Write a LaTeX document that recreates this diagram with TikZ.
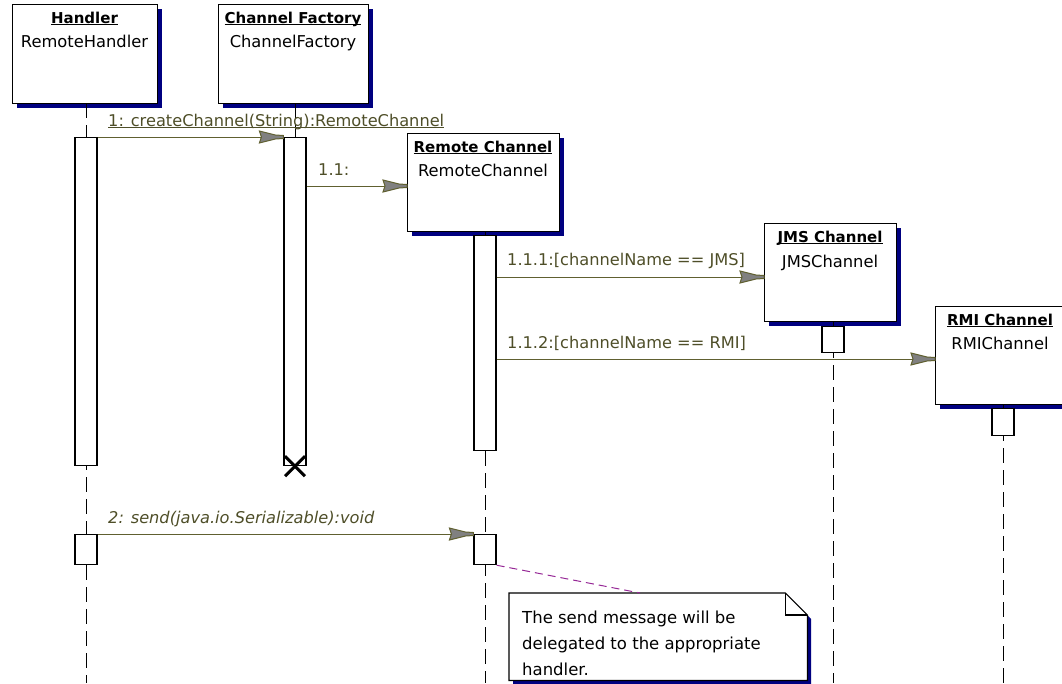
\documentclass[tikz,border=0pt]{standalone}
\usepackage{fontspec}
\setmainfont{DejaVu Sans}
\usetikzlibrary{arrows.meta,shadows,calc}

\definecolor{shadowblue}{RGB}{0,0,128}
\definecolor{msgline}{RGB}{96,96,48}
\definecolor{msgtext}{RGB}{78,78,40}
\definecolor{msgfill}{RGB}{128,128,128}
\definecolor{notelink}{RGB}{150,40,150}

% underline drawn just below the baseline, over any descenders
\newcommand{\ulbox}[1]{\setbox0\hbox{#1}\rlap{\rule[-2pt]{\wd0}{1pt}}\box0}

% message arrow head: gray body with a narrow stem at the tip
\pgfdeclarearrow{
  name = MsgHead,
  parameters = {},
  setup code = {
    \pgfarrowssettipend{0pt}
    \pgfarrowssetbackend{-24pt}
    \pgfarrowssetvisualbackend{-24pt}
    \pgfarrowssetlineend{-20pt}
    \pgfarrowshullpoint{0pt}{1.5pt}
    \pgfarrowshullpoint{0pt}{-1.5pt}
    \pgfarrowshullpoint{-24pt}{6pt}
    \pgfarrowshullpoint{-24pt}{-6pt}
  },
  drawing code = {
    \pgfpathmoveto{\pgfqpoint{0pt}{1.5pt}}
    \pgfpathlineto{\pgfqpoint{-8pt}{2pt}}
    \pgfpathlineto{\pgfqpoint{-24pt}{6pt}}
    \pgfpathlineto{\pgfqpoint{-22pt}{0pt}}
    \pgfpathlineto{\pgfqpoint{-24pt}{-6pt}}
    \pgfpathlineto{\pgfqpoint{-8pt}{-2pt}}
    \pgfpathlineto{\pgfqpoint{0pt}{-1.5pt}}
    \pgfpathclose
    \pgfusepathqfillstroke
  },
  defaults = {}
}

\tikzset{
  objbox/.style={draw=black, line width=1.2pt, fill=white, inner sep=0pt,
    anchor=north west,
    general shadow={fill=shadowblue, shadow xshift=4pt, shadow yshift=-4pt}},
  otitle/.style={font=\bfseries\fontsize{15}{18}\selectfont, anchor=base, inner sep=0pt},
  oname/.style={font=\fontsize{16.3}{19}\selectfont, anchor=base, inner sep=0pt},
  actbox/.style={draw=black, line width=1.2pt, fill=white, minimum width=22pt,
    inner sep=0pt, anchor=north},
  lifeline/.style={draw=black, line width=1pt, dash pattern=on 15pt off 7pt},
  msg/.style={draw=msgline, line width=1pt, -{MsgHead[fill=msgfill]}},
  msglabel/.style={text=msgtext, font=\fontsize{16.2}{19}\selectfont,
    anchor=base west, inner sep=0pt},
  notelinkline/.style={draw=notelink, line width=1pt, dash pattern=on 8pt off 5pt},
  destroy/.style={draw=black, line width=3pt},
}

\begin{document}
\begin{tikzpicture}[x=1pt, y=-1pt]
\useasboundingbox (0,0) rectangle (1062,683);

% object heads
\node[objbox, minimum width=145pt, minimum height=99pt] (hbox) at (12,4) {};
\node[objbox, minimum width=150pt, minimum height=99pt] (fbox) at (218,4) {};
\node[objbox, minimum width=152pt, minimum height=98pt] (rbox) at (407,133) {};
\node[objbox, minimum width=132pt, minimum height=98pt] (jbox) at (764,223) {};
\node[objbox, minimum width=130pt, minimum height=98pt] (mbox) at (935,306) {};

\node[otitle] (hT) at (84.5,23) {\ulbox{Handler}};
\node[oname]  (hN) at (84.5,47) {RemoteHandler};
\node[otitle] (fT) at (293,23) {\ulbox{Channel Factory}};
\node[oname]  (fN) at (293,47) {ChannelFactory};
\node[otitle] (rT) at (483,152) {\ulbox{Remote Channel}};
\node[oname]  (rN) at (483,176) {RemoteChannel};
\node[otitle] (jT) at (830,242) {\ulbox{JMS Channel}};
\node[oname]  (jN) at (830,267) {JMSChannel};
\node[otitle] (mT) at (1000,325) {\ulbox{RMI Channel}};
\node[oname]  (mN) at (1000,349) {RMIChannel};

% lifelines
\draw[lifeline] (86,103) -- (86,683);
\draw[lifeline] (295,103) -- (295,137);
\draw[lifeline] (485,231) -- (485,683);
\draw[lifeline] (833,321) -- (833,683);
\draw[lifeline] (1003,404) -- (1003,683);

% activations
\node[actbox, minimum height=328pt] (hact1) at (86,137) {};
\node[actbox, minimum height=30pt]  (hact2) at (86,534) {};
\node[actbox, minimum height=328pt] (fact)  at (295,137) {};
\node[actbox, minimum height=215pt] (ract1) at (485,235) {};
\node[actbox, minimum height=30pt]  (ract2) at (485,534) {};
\node[actbox, minimum height=26pt]  (jact)  at (833,326) {};
\node[actbox, minimum height=27pt]  (mact)  at (1003,408) {};

% destruction of the factory
\draw[destroy] ($(fact.south)+(-10,-10)$) -- ($(fact.south)+(10,10)$);
\draw[destroy] ($(fact.south)+(10,-10)$) -- ($(fact.south)+(-10,10)$);

% messages
\draw[msg] (hact1.north east) -- (fact.north west);
\node[msglabel] (l1) at (108,126) {\ulbox{1: createChannel(String):RemoteChannel}};

\draw[msg] (fact.east |- 0,186) -- (rbox.west |- 0,186);
\node[msglabel] (l11) at (318,175) {1.1:};

\draw[msg] (ract1.east |- 0,277) -- (jbox.west |- 0,277);
\node[msglabel] (l111) at (507,265) {1.1.1:[channelName == JMS]};

\draw[msg] (ract1.east |- 0,359) -- (mbox.west |- 0,359);
\node[msglabel] (l112) at (507,348) {1.1.2:[channelName == RMI]};

\draw[msg] (hact2.north east) -- (ract2.north west);
\node[msglabel] (l2) at (108,523) {\itshape 2: send(java.io.Serializable):void};

% note with folded corner
\node[inner sep=0pt, minimum width=298pt, minimum height=87pt, anchor=north west] (note) at (509,593) {};
\fill[shadowblue] (513,597) -- (789,597) -- (811,619) -- (811,684) -- (513,684) -- cycle;
\draw[line width=1.2pt, fill=white] (note.north west) -- ($(note.north east)+(-22,0)$)
  -- ($(note.north east)+(0,22)$) -- (note.south east) -- (note.south west) -- cycle;
\draw[line width=1.2pt] ($(note.north east)+(-22,0)$) -- ($(note.north east)+(-22,22)$)
  -- ($(note.north east)+(0,22)$);
\node[anchor=north west, inner sep=0pt, align=left, font=\fontsize{16.5}{26}\selectfont]
  (noteText) at (522,611) {The send message will be\\delegated to the appropriate\\handler.};

\draw[notelinkline] (ract2.south east) -- ($(note.north west)+(131,0)$);

\end{tikzpicture}
\end{document}
